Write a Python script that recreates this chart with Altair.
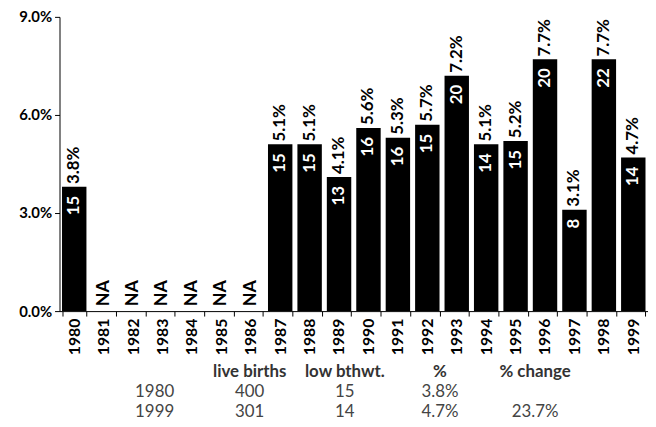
import altair as alt
import pandas as pd

years = [str(y) for y in range(1980, 2000)]
pct = [3.8, None, None, None, None, None, None, 5.1, 5.1, 4.1, 5.6, 5.3, 5.7, 7.2, 5.1, 5.2, 7.7, 3.1, 7.7, 4.7]
counts = [15, None, None, None, None, None, None, 15, 15, 13, 16, 16, 15, 20, 14, 15, 20, 8, 22, 14]

y_ticks = [0.0, 0.03, 0.06, 0.09]

table_cols = ["year", "live births", "low bthwt.", "%", "% change"]
table_header = ["", "live births", "low bthwt.", "%", "% change"]
table_1980 = ["1980", "400", "15", "3.8%", ""]
table_1999 = ["1999", "301", "14", "4.7%", "23.7%"]

FONT = "Lato"

df = pd.DataFrame({
    "year": years,
    "pct": [p / 100 if p is not None else None for p in pct],
    "pct_label": [f"{p:.1f}%" if p is not None else "" for p in pct],
    "count_label": [str(c) if c is not None else "" for c in counts],
    "na": ["NA" if p is None else "" for p in pct],
})

x_enc = alt.X(
    "year:O",
    scale=alt.Scale(domain=years, paddingInner=0.17, paddingOuter=0.085),
    axis=alt.Axis(
        title=None, labelAngle=-90, labelFont=FONT, labelFontWeight="bold",
        labelFontSize=16, labelColor="black", domainColor="black",
        tickColor="black", tickSize=5, tickBand="extent", labelPadding=2,
    ),
)
y_scale = alt.Scale(domain=[0, 0.09])
y_enc = alt.Y(
    "pct:Q",
    scale=y_scale,
    axis=alt.Axis(
        title=None, values=y_ticks, format=".1%", grid=False,
        labelFont=FONT, labelFontWeight="bold", labelFontSize=15,
        labelColor="black", domainColor="black", tickColor="black",
        tickSize=5, labelPadding=3, minExtent=48, maxExtent=48,
    ),
)

base = alt.Chart(df)

bars = base.mark_bar(color="black").encode(x=x_enc, y=y_enc)

pct_text = base.transform_filter("datum.pct != null").mark_text(
    angle=270, align="left", baseline="middle", dx=3,
    font=FONT, fontWeight="bold", fontSize=17, color="black",
).encode(x=x_enc, y=y_enc, text="pct_label:N")

count_text = base.transform_filter("datum.pct != null").mark_text(
    angle=270, align="right", baseline="middle", dx=-9,
    font=FONT, fontWeight="bold", fontSize=17, color="white",
).encode(x=x_enc, y=y_enc, text="count_label:N")

na_text = base.transform_filter("datum.pct == null").mark_text(
    angle=270, align="left", baseline="middle", dx=5,
    font=FONT, fontWeight="bold", fontSize=18, color="black",
).encode(x=x_enc, y=alt.Y(datum=0, scale=y_scale), text="na:N")

top = alt.layer(bars, pct_text, count_text, na_text).properties(width=594, height=297)

rows = []
for rname, vals in [("header", table_header), ("r1980", table_1980), ("r1999", table_1999)]:
    for c, v in zip(table_cols, vals):
        rows.append({"row": rname, "col": c, "txt": v})
tdf = pd.DataFrame(rows)

tx = alt.X("col:N", scale=alt.Scale(type="point", domain=table_cols, padding=1), axis=None)
ty = alt.Y("row:N", scale=alt.Scale(type="band", domain=["header", "r1980", "r1999"],
                                    paddingInner=0, paddingOuter=0), axis=None)

thead = alt.Chart(tdf).transform_filter("datum.row == 'header'").mark_text(
    font=FONT, fontWeight="bold", fontSize=17, color="#333333", baseline="middle",
).encode(x=tx, y=ty, text="txt:N")
tbody = alt.Chart(tdf).transform_filter("datum.row != 'header'").mark_text(
    font=FONT, fontWeight="normal", fontSize=17, color="#444444", baseline="middle",
).encode(x=tx, y=ty, text="txt:N")

table = alt.layer(thead, tbody).properties(width=576, height=60)

chart = alt.vconcat(
    top, table, spacing=7,
    padding={"left": 4, "top": 0, "right": 0, "bottom": 0},
    background="white",
).configure_view(strokeWidth=0, stroke="transparent")

chart.save("out.html", embed_options={"renderer": "svg", "actions": False})
